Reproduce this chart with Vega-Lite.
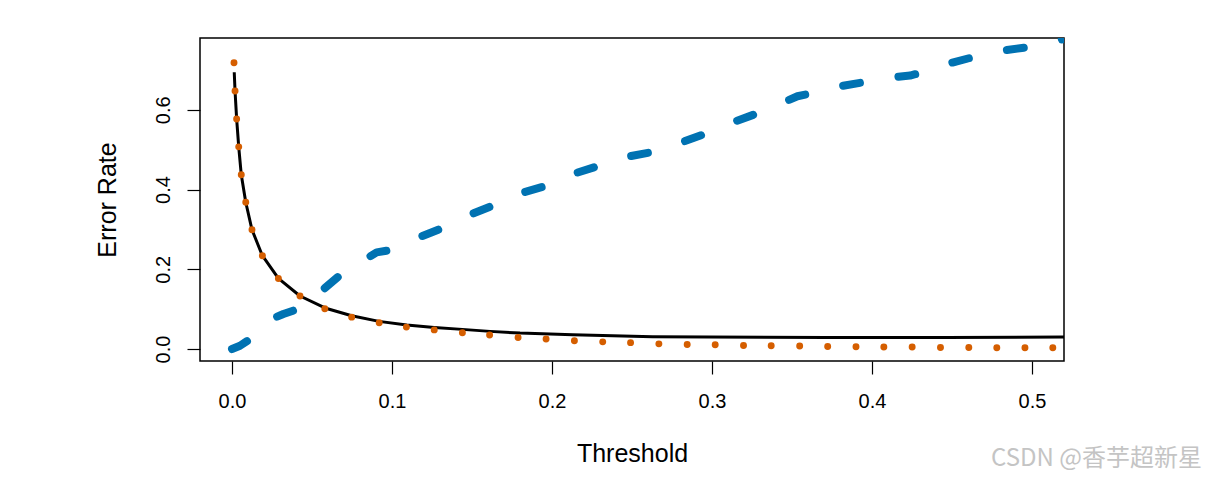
{
  "$schema": "https://vega.github.io/schema/vega-lite/v6.json",
  "width": 864,
  "height": 323,
  "autosize": {"type": "none"},
  "padding": {"left": 200, "top": 38, "right": 141, "bottom": 116},
  "background": "white",
  "title": {
    "text": "CSDN @香芋超新星",
    "orient": "bottom",
    "anchor": "end",
    "frame": "group",
    "offset": 0,
    "baseline": "alphabetic",
    "dx": 138,
    "dy": 0,
    "font": "Noto Sans CJK SC",
    "fontSize": 24,
    "fontWeight": "normal",
    "color": "#c4c4c4"
  },
  "config": {
    "view": {"stroke": "black", "strokeWidth": 1.5},
    "axis": {
      "grid": false,
      "domain": false,
      "tickColor": "black",
      "tickSize": 13,
      "tickWidth": 1.2,
      "labelFont": "Liberation Sans",
      "labelFontSize": 20,
      "labelColor": "black",
      "labelFlush": false,
      "labelOverlap": false,
      "titleFont": "Liberation Sans",
      "titleFontSize": 25,
      "titleFontWeight": "normal",
      "titleColor": "black"
    }
  },
  "datasets": {
    "overall": [
      {"threshold": 0.0014, "error": 0.694},
      {"threshold": 0.0019, "error": 0.647},
      {"threshold": 0.0029, "error": 0.577},
      {"threshold": 0.0042, "error": 0.507},
      {"threshold": 0.0058, "error": 0.437},
      {"threshold": 0.0086, "error": 0.368},
      {"threshold": 0.0125, "error": 0.299},
      {"threshold": 0.019, "error": 0.234},
      {"threshold": 0.029, "error": 0.177},
      {"threshold": 0.0425, "error": 0.133},
      {"threshold": 0.0581, "error": 0.103},
      {"threshold": 0.0748, "error": 0.0836},
      {"threshold": 0.0919, "error": 0.0694},
      {"threshold": 0.1092, "error": 0.0602},
      {"threshold": 0.1264, "error": 0.0543},
      {"threshold": 0.1439, "error": 0.0493},
      {"threshold": 0.1613, "error": 0.0443},
      {"threshold": 0.18, "error": 0.040},
      {"threshold": 0.2129, "error": 0.036},
      {"threshold": 0.2628, "error": 0.031},
      {"threshold": 0.3716, "error": 0.029},
      {"threshold": 0.4464, "error": 0.029},
      {"threshold": 0.52, "error": 0.030}
    ],
    "defaulters": [
      {"threshold": 0.0, "error": 0.0},
      {"threshold": 0.005, "error": 0.0083},
      {"threshold": 0.0113, "error": 0.0251},
      {"threshold": 0.0263, "error": 0.0778},
      {"threshold": 0.0321, "error": 0.0878},
      {"threshold": 0.0394, "error": 0.0979},
      {"threshold": 0.0561, "error": 0.1463},
      {"threshold": 0.0664, "error": 0.1814},
      {"threshold": 0.0836, "error": 0.2258},
      {"threshold": 0.0904, "error": 0.2424},
      {"threshold": 0.0967, "error": 0.2467},
      {"threshold": 0.1158, "error": 0.2785},
      {"threshold": 0.1289, "error": 0.2993},
      {"threshold": 0.1473, "error": 0.3345},
      {"threshold": 0.1613, "error": 0.357},
      {"threshold": 0.1788, "error": 0.389},
      {"threshold": 0.1947, "error": 0.4073},
      {"threshold": 0.2118, "error": 0.4373},
      {"threshold": 0.2276, "error": 0.4574},
      {"threshold": 0.2453, "error": 0.4808},
      {"threshold": 0.2616, "error": 0.4933},
      {"threshold": 0.2793, "error": 0.5159},
      {"threshold": 0.2945, "error": 0.5378},
      {"threshold": 0.3119, "error": 0.5671},
      {"threshold": 0.3274, "error": 0.5897},
      {"threshold": 0.3446, "error": 0.6188},
      {"threshold": 0.3534, "error": 0.6339},
      {"threshold": 0.3603, "error": 0.6399},
      {"threshold": 0.3786, "error": 0.6582},
      {"threshold": 0.3949, "error": 0.669},
      {"threshold": 0.4131, "error": 0.6816},
      {"threshold": 0.4238, "error": 0.6858},
      {"threshold": 0.4294, "error": 0.6916},
      {"threshold": 0.4471, "error": 0.7152},
      {"threshold": 0.463, "error": 0.7318},
      {"threshold": 0.4816, "error": 0.7486},
      {"threshold": 0.4975, "error": 0.7569},
      {"threshold": 0.5179, "error": 0.7754},
      {"threshold": 0.53, "error": 0.79}
    ],
    "nondefaulters": [
      {"threshold": 0.00125, "error": 0.718},
      {"threshold": 0.0019, "error": 0.647},
      {"threshold": 0.0029, "error": 0.577},
      {"threshold": 0.0042, "error": 0.507},
      {"threshold": 0.0058, "error": 0.437},
      {"threshold": 0.0086, "error": 0.368},
      {"threshold": 0.0125, "error": 0.299},
      {"threshold": 0.019, "error": 0.234},
      {"threshold": 0.029, "error": 0.177},
      {"threshold": 0.0425, "error": 0.133},
      {"threshold": 0.058, "error": 0.101},
      {"threshold": 0.0748, "error": 0.080},
      {"threshold": 0.092, "error": 0.066},
      {"threshold": 0.109, "error": 0.055},
      {"threshold": 0.1264, "error": 0.048},
      {"threshold": 0.144, "error": 0.041},
      {"threshold": 0.161, "error": 0.035},
      {"threshold": 0.1788, "error": 0.029},
      {"threshold": 0.1963, "error": 0.025},
      {"threshold": 0.214, "error": 0.021},
      {"threshold": 0.2317, "error": 0.018},
      {"threshold": 0.2491, "error": 0.016},
      {"threshold": 0.2668, "error": 0.013},
      {"threshold": 0.2845, "error": 0.0116},
      {"threshold": 0.302, "error": 0.0108},
      {"threshold": 0.3197, "error": 0.009},
      {"threshold": 0.337, "error": 0.0083},
      {"threshold": 0.3548, "error": 0.0075},
      {"threshold": 0.3723, "error": 0.0065},
      {"threshold": 0.39, "error": 0.0058},
      {"threshold": 0.4074, "error": 0.005},
      {"threshold": 0.4251, "error": 0.005},
      {"threshold": 0.4428, "error": 0.004},
      {"threshold": 0.4605, "error": 0.004},
      {"threshold": 0.478, "error": 0.0033},
      {"threshold": 0.4956, "error": 0.0033},
      {"threshold": 0.513, "error": 0.0033}
    ]
  },
  "encoding": {
    "x": {
      "field": "threshold",
      "type": "quantitative",
      "scale": {"domain": [-0.02, 0.52], "nice": false, "zero": false},
      "axis": {
        "title": "Threshold",
        "values": [0, 0.1, 0.2, 0.3, 0.4, 0.5],
        "format": ".1f",
        "labelBaseline": "alphabetic",
        "labelPadding": 33,
        "titleX": 432,
        "titleY": 100,
        "titleBaseline": "alphabetic",
        "titleAlign": "center"
      }
    },
    "y": {
      "field": "error",
      "type": "quantitative",
      "scale": {"domain": [-0.03, 0.78], "nice": false, "zero": false},
      "axis": {
        "title": "Error Rate",
        "values": [0, 0.2, 0.4, 0.6],
        "format": ".1f",
        "labelAngle": -90,
        "labelAlign": "center",
        "labelBaseline": "alphabetic",
        "labelPadding": 18,
        "titleAngle": -90,
        "titleX": -85,
        "titleY": 161.5,
        "titleBaseline": "alphabetic",
        "titleAlign": "center"
      }
    }
  },
  "layer": [
    {
      "data": {"name": "overall"},
      "mark": {"type": "line", "color": "black", "strokeWidth": 3, "clip": true, "strokeJoin": "round"}
    },
    {
      "data": {"name": "defaulters"},
      "mark": {"type": "line", "color": "#0072B2", "strokeWidth": 8, "strokeCap": "round", "strokeJoin": "round", "strokeDash": [17, 39], "clip": true}
    },
    {
      "data": {"name": "nondefaulters"},
      "mark": {"type": "point", "filled": true, "color": "#D55E00", "size": 48, "opacity": 1, "clip": true}
    }
  ]
}
